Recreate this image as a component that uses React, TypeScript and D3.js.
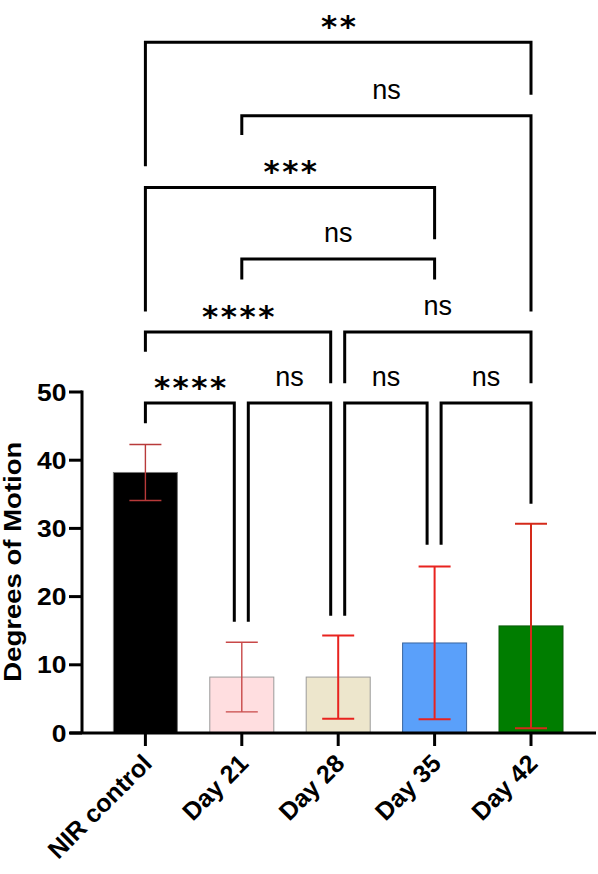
import React from "react";
import * as d3 from "d3";

const categories = ["NIR control", "Day 21", "Day 28", "Day 35", "Day 42"];
const means = [38.2, 8.2, 8.2, 13.2, 15.7];
const sds = [4.1, 5.1, 6.1, 11.2, 15.0];
const fills = ["#000000", "#FFDEE0", "#EDE6CC", "#5AA0FA", "#007D00"];
const strokes = ["#777777", "#9a9a9a", "#9a9a9a", "#3a66a0", "#0a5a0a"];
const errColors = ["#b83a3a", "#c84848", "#e8231f", "#e8231f", "#d42a1a"];
const errWidths = [1.4, 1.4, 2, 2, 2];
const yTicks = [0, 10, 20, 30, 40, 50];

// comparisons: group a, group b, bracket height (data units), leg end heights, label
const compA = [0, 1, 2, 3, 0, 2, 1, 0, 1, 0];
const compB = [1, 2, 3, 4, 2, 4, 3, 3, 4, 4];
const compLevel = [48.4, 48.4, 48.4, 48.4, 58.8, 58.8, 69.5, 80.0, 90.5, 101.3];
const compLegA = [45.4, 16.3, 17.2, 27.6, 55.9, 51.3, 66.5, 61.8, 87.7, 83.1];
const compLegB = [16.3, 17.2, 27.6, 33.6, 51.3, 51.3, 66.5, 72.4, 61.8, 93.6];
const compLabel = ["****", "ns", "ns", "ns", "****", "ns", "ns", "***", "ns", "**"];

const FONT = "'Liberation Sans', Arial, Helvetica, sans-serif";

export default function App() {
  const x = d3
    .scaleBand<string>()
    .domain(categories)
    .range([97.2, 579.2])
    .paddingInner(0.336)
    .paddingOuter(0.168);
  const y = d3.scaleLinear().domain([0, 50]).range([733, 392]);
  const bw = x.bandwidth();
  const cx = (i: number) => (x(categories[i]) as number) + bw / 2;
  const axisX = 82;

  const brackets = compA.map((a, k) => {
    const b = compB[k];
    const lvl = compLevel[k];
    const sharedLeft = compB.some((bb, j) => j !== k && bb === a && compLevel[j] === lvl);
    const sharedRight = compA.some((aa, j) => j !== k && aa === b && compLevel[j] === lvl);
    const xl = cx(a) + (sharedLeft ? 6.5 : 0);
    const xr = cx(b) - (sharedRight ? 7.5 : 0);
    return { xl, xr, lvl, la: compLegA[k], lb: compLegB[k], label: compLabel[k] };
  });

  return (
    <svg
      width={598}
      height={874}
      style={{ position: "absolute", left: 0, top: 0, background: "#fff" }}
    >
      <rect width={598} height={874} fill="#fff" />
      {/* bars */}
      {categories.map((c, i) => (
        <rect
          key={c}
          x={x(c)}
          y={y(means[i])}
          width={bw}
          height={y(0) - y(means[i])}
          fill={fills[i]}
          stroke={strokes[i]}
          strokeWidth={1}
        />
      ))}
      {/* error bars */}
      {categories.map((c, i) => {
        const hi = y(means[i] + sds[i]);
        const lo = y(Math.max(0, means[i] - sds[i]));
        const xc = cx(i);
        return (
          <g key={c} stroke={errColors[i]} strokeWidth={errWidths[i]} fill="none">
            <line x1={xc} x2={xc} y1={hi} y2={lo} />
            <line x1={xc - bw / 4} x2={xc + bw / 4} y1={hi} y2={hi} />
            <line x1={xc - bw / 4} x2={xc + bw / 4} y1={lo} y2={lo} />
          </g>
        );
      })}
      {/* axes */}
      <line x1={axisX} x2={axisX} y1={y(50) - 1.5} y2={y(0)} stroke="#000" strokeWidth={3} />
      <line x1={70} x2={596} y1={y(0)} y2={y(0)} stroke="#000" strokeWidth={3} />
      {yTicks.map((t) => (
        <g key={t}>
          <line x1={69} x2={axisX} y1={y(t)} y2={y(t)} stroke="#000" strokeWidth={3} />
          <text
            transform={`translate(66.5, ${y(t) + 8.5}) scale(1.15,1)`}
            textAnchor="end"
            fontFamily={FONT}
            fontWeight="bold"
            fontSize={23}
            fill="#000"
          >
            {t}
          </text>
        </g>
      ))}
      {categories.map((c, i) => (
        <g key={c}>
          <line x1={cx(i)} x2={cx(i)} y1={y(0)} y2={y(0) + 13} stroke="#000" strokeWidth={3} />
          <text
            transform={`translate(${cx(i) + 8}, ${y(0) + 32}) rotate(-45)`}
            textAnchor="end"
            fontFamily={FONT}
            fontWeight="bold"
            fontSize={25}
            fill="#000"
          >
            {c}
          </text>
        </g>
      ))}
      <text
        transform={`translate(20.5, 561.7) rotate(-90)`}
        textAnchor="middle"
        fontFamily={FONT}
        fontWeight="bold"
        fontSize={23.5}
        textLength={240}
        lengthAdjust="spacingAndGlyphs"
        fill="#000"
      >
        Degrees of Motion
      </text>
      {/* significance brackets */}
      {brackets.map((br, k) => {
        const mid = (br.xl + br.xr) / 2;
        const isStar = br.label.includes("*");
        return (
          <g key={k}>
            <path
              d={`M${br.xl},${y(br.la)} V${y(br.lvl)} H${br.xr} V${y(br.lb)}`}
              fill="none"
              stroke="#000"
              strokeWidth={3}
              strokeLinejoin="miter"
            />
            {isStar ? (
              <text
                x={mid + 1.5}
                y={y(br.lvl) - 5}
                textAnchor="middle"
                fontFamily="'DejaVu Sans', sans-serif"
                fontWeight="bold"
                fontSize={31}
                letterSpacing={2.5}
                fill="#000"
              >
                {br.label}
              </text>
            ) : (
              <text
                x={mid}
                y={y(br.lvl) - 17}
                textAnchor="middle"
                fontFamily={FONT}
                fontSize={27}
                fill="#000"
              >
                {br.label}
              </text>
            )}
          </g>
        );
      })}
    </svg>
  );
}
